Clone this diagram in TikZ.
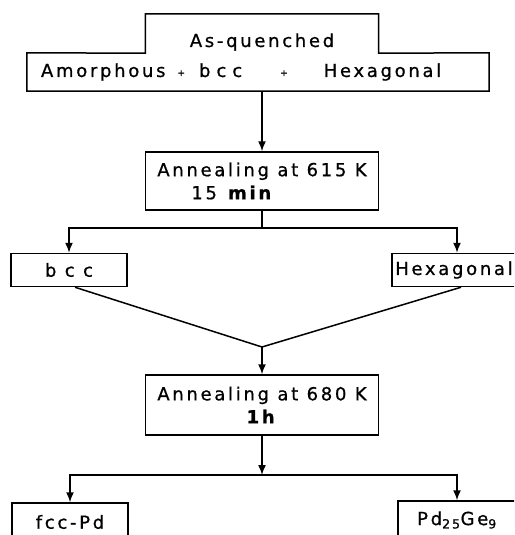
\documentclass[tikz,border=0pt]{standalone}
\usepackage{fontspec}
\setmainfont{DejaVu Sans}[LetterSpace=15, UprightFeatures={FakeBold=0.8}, BoldFeatures={FakeBold=1}]
\usepackage{tikz}
\usetikzlibrary{shapes,arrows,arrows.meta,positioning}
\tikzstyle{outline} = [draw, line width=1.5pt]
\tikzstyle{title} = [rectangle, minimum width=233pt, minimum height=39pt,
    text height=27pt, text depth=0pt]
\tikzstyle{mixture} = [rectangle, text width=434pt, inner xsep=14pt,
    minimum height=38pt, align=left]
\tikzstyle{block} = [rectangle, draw, line width=1.5pt, 
    minimum width=233pt, minimum height=58pt]
\tikzstyle{phase} = [rectangle, draw, line width=1.5pt, 
    minimum width=116pt, minimum height=33pt]
\tikzstyle{link} = [draw, line width=1.5pt, -{Latex[length=10pt, width=8pt]}]
\tikzstyle{branch} = [draw, line width=1.5pt]

\begin{document}
\begin{tikzpicture}[x=1pt, y=-1pt, node distance=100pt, font=\fontsize{18}{23}\selectfont]
    \useasboundingbox (0,0) rectangle (514,535);
    \clip (0,0) rectangle (514,535);
    % Place nodes
    \node [title] (quenched) at (262,33.5) {As-quenched};
    \node [mixture, below of=quenched, node distance=38.5pt, xshift=-4pt] (mix) {Amorphous\hspace{12pt}\raisebox{1pt}{\small +}\hspace{14pt}b c c\hspace{38pt}\raisebox{1pt}{\small +}\hspace{36pt}Hexagonal};
    \node [block, below of=quenched, node distance=147.5pt, align=left] (anneal1) {Annealing at 615 K\\\hspace*{34pt}15 \textbf{min}};
    \node [phase, below of=anneal1, node distance=89pt, xshift=-193pt] (bcc) {b c c};
    \node [phase, below of=anneal1, node distance=89pt, xshift=192pt, minimum width=118pt] (hex) {Hexagonal};
    \coordinate [below of=anneal1, node distance=47pt] (split1);
    \coordinate [below of=anneal1, node distance=166pt] (merge);
    \node [block, below of=anneal1, node distance=224pt, minimum height=60pt, align=center] (anneal2) {Annealing at 680 K\\\textbf{1h}};
    \coordinate [below of=anneal2, node distance=70pt] (split2);
    \node [phase, below of=anneal2, node distance=117pt, xshift=-192pt, minimum height=38pt] (fcc) {fcc-Pd};
    \node [phase, below of=anneal2, node distance=115pt, xshift=195pt, minimum width=118pt, minimum height=38pt] (pdge) {Pd\textsubscript{25}Ge\textsubscript{9}};
    \draw [outline] (mix.south west) -- (mix.north west) -- (quenched.south west)
        -- (quenched.north west) -- (quenched.north east) -- (quenched.south east)
        -- (mix.north east) -- (mix.south east) -- cycle;
    % Draw edges
    \path [link]   (anneal1.north |- mix.south) -- (anneal1.north);
    \path [branch] (anneal1.south)  -- (split1);
    \path [link]   (split1)         -| (bcc.north);
    \path [link]   (split1)         -| ([xshift=3pt]hex.north);
    \path [branch] ([xshift=6pt]bcc.south) -- (merge);
    \path [branch] ([xshift=7pt]hex.south) -- (merge);
    \path [link]   (merge)          -- (anneal2.north);
    \path [link]   (anneal2.south)  -- (split2);
    \path [link]   (split2)         -| (fcc.north);
    \path [link]   (split2)         -| (pdge.north);
\end{tikzpicture}
\end{document}
